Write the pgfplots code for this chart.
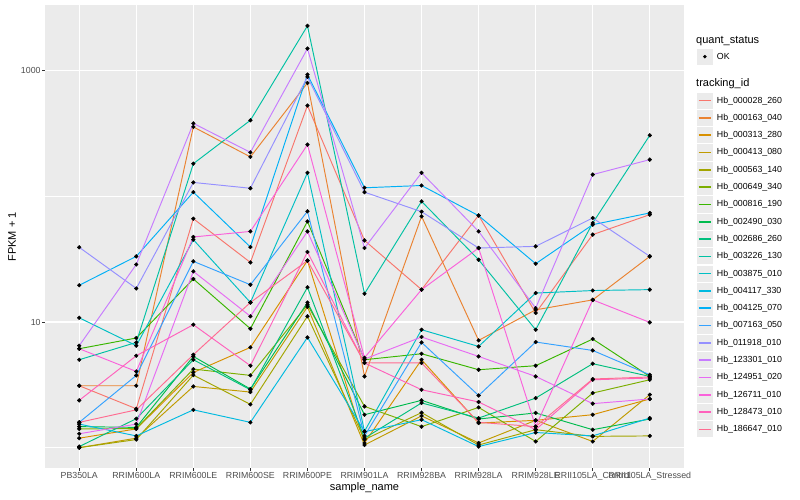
\documentclass[border=0pt]{standalone}
\usepackage{fontspec}
\setmainfont{Liberation Sans}
\usepackage{pgfplots}
\usepackage{pgfplotstable}
\pgfplotsset{compat=1.18}

\definecolor{panelgrey}{HTML}{EBEBEB}
\definecolor{txtgrey}{HTML}{4D4D4D}
\definecolor{tickgrey}{HTML}{333333}
\definecolor{c1}{HTML}{F8766D}
\definecolor{c2}{HTML}{EA8331}
\definecolor{c3}{HTML}{D89000}
\definecolor{c4}{HTML}{C09B00}
\definecolor{c5}{HTML}{A3A500}
\definecolor{c6}{HTML}{7CAE00}
\definecolor{c7}{HTML}{39B600}
\definecolor{c8}{HTML}{00BB4E}
\definecolor{c9}{HTML}{00BF7D}
\definecolor{c10}{HTML}{00C1A3}
\definecolor{c11}{HTML}{00BFC4}
\definecolor{c12}{HTML}{00BAE0}
\definecolor{c13}{HTML}{00B0F6}
\definecolor{c14}{HTML}{35A2FF}
\definecolor{c15}{HTML}{9590FF}
\definecolor{c16}{HTML}{C77CFF}
\definecolor{c17}{HTML}{E76BF3}
\definecolor{c18}{HTML}{FA62DB}
\definecolor{c19}{HTML}{FF62BC}
\definecolor{c20}{HTML}{FF6C91}

% FPKM + 1, one row per sample, one column per tracking_id
\pgfplotstableread{
x  s1   s2   s3   s4   s5   s6   s7   s8   s9   s10  s11  s12  s13  s14  s15  s16  s17  s18  s19  s20
0  3.11 3.11 1.19 1.00 1.00 1.41 6.13 1.47 1.02 5.01 10.8 1.54 19.6 1.59 39.3 6.48 1.29 6.13 2.38 1.59
1  2.04 3.11 1.41 1.19 1.16 1.42 7.46 1.45 1.70 6.88 6.48 1.24 33.3 3.76 18.5 28.7 1.54 4.04 5.39 2.00
2  66.4 357  3.97 3.07 3.78 4.22 22.0 5.32 5.01 182  45.2 2.00 108  30.4 129  381  25.3 47.5 9.52 5.49
3  29.8 206  6.28 2.77 2.21 3.76 8.84 2.93 2.89 403  14.3 1.59 39.5 19.8 116  224  11.1 52.6 4.49 14.3
4  528  799  30.8 13.2 11.1 13.7 63.2 14.3 18.9 2274 154  7.54 931  76.0 892  1500 52.6 258  36.1 30.8
5  44.6 3.69 1.09 1.05 1.16 2.13 5.01 1.83 1.19 16.8 1.35 1.34 117  1.24 108  38.8 5.07 5.20 4.72 4.74
6  18.1 69.3 5.01 1.79 1.90 1.47 5.59 2.38 2.27 91.2 8.68 1.67 122  6.88 75.5 154  7.60 18.1 2.89 4.72
7  70.6 7.14 1.57 1.09 1.05 2.09 4.17 1.69 1.72 31.3 6.39 1.02 70.2 2.60 38.8 52.6 5.32 38.8 2.31 1.59
8  11.8 12.5 1.65 1.65 1.39 1.12 4.49 1.89 2.48 8.68 17.0 1.32 29.1 6.93 40.0 12.9 3.69 1.47 1.39 1.47
9  49.6 15.0 1.83 1.12 1.23 2.72 7.32 1.39 4.66 61.4 17.8 1.24 59.5 5.94 67.3 149  2.24 15.0 3.47 3.52
10 71.5 33.3 2.44 2.64 1.24 3.47 3.69 1.69 3.69 306  18.1 1.72 73.8 3.80 33.3 196  2.44 9.93 3.58 3.65
}\fpkm

\begin{document}
\begin{tikzpicture}[x=1bp,y=1bp]
\path[use as bounding box] (0,0) rectangle (800,500);
\begin{axis}[
    at={(45bp,32bp)}, anchor=south west,
    width=639bp, height=463bp, scale only axis,
    ymode=log, ymin=0.689, ymax=3334,
    xmin=-0.6, xmax=10.6,
    xtick={0,...,10},
    xticklabels={PB350LA,RRIM600LA,RRIM600LE,RRIM600SE,RRIM600PE,RRIM901LA,RRIM928BA,RRIM928LA,RRIM928LE,RRII105LA\_Control,RRII105LA\_Stressed},
    ytick={10,1000}, yticklabels={10,1000},
    minor ytick={1,100},
    /pgf/number format/assume math mode=true,
    axis background/.style={fill=panelgrey},
    axis line style={draw=none},
    xmajorgrids, ymajorgrids, yminorgrids,
    major grid style={white, line width=1.07bp},
    minor grid style={white, line width=0.53bp},
    tick pos=left, tick align=outside,
    major tick length=2.75bp, minor tick length=0pt,
    tick style={tickgrey, line width=0.8bp},
    ticklabel style={font=\fontsize{8.8bp}{10bp}\selectfont, text=txtgrey},
    yticklabel style={inner sep=1.5bp},
    xticklabel style={inner sep=1.5bp},
    clip=false,
]
\pgfplotsinvokeforeach{1,...,20}{
  \addplot[c#1, line width=0.95bp, mark=none] table[x=x, y=s#1]{\fpkm};
}
\pgfplotsinvokeforeach{1,...,20}{
  \addplot[only marks, mark=*, mark size=1.9bp, black] table[x=x, y=s#1]{\fpkm};
}
\end{axis}

% axis titles
\node[font=\fontsize{11bp}{13bp}\selectfont] at (364.5,12) {sample\_name};
\node[font=\fontsize{11bp}{13bp}\selectfont, rotate=90] at (12,263) {FPKM + 1};

% legend
\node[anchor=west, inner sep=0, font=\fontsize{11bp}{13bp}\selectfont] at (696,459.3) {quant\_status};
\fill[panelgrey] (696.7,435.2) rectangle (713,451.4);
\fill[black] (704.85,443.3) circle (1.9);
\node[anchor=west, inner sep=0, font=\fontsize{8.8bp}{10bp}\selectfont] at (716.7,443.3) {OK};
\node[anchor=west, inner sep=0, font=\fontsize{11bp}{13bp}\selectfont] at (696,416.7) {tracking\_id};
\foreach \id [count=\i from 1] in {000028\_260,000163\_040,000313\_280,000413\_080,000563\_140,000649\_340,000816\_190,002490\_030,002686\_260,003226\_130,003875\_010,004117\_330,004125\_070,007163\_050,011918\_010,123301\_010,124951\_020,126711\_010,128473\_010,186647\_010}{
  \pgfmathsetmacro{\yc}{500-100.7-17.3*(\i-1)}
  \fill[panelgrey] (696.7,\yc-8.1) rectangle (713,\yc+8.1);
  \draw[c\i, line width=1.6bp] (698.5,\yc) -- (711.2,\yc);
  \node[anchor=west, inner sep=0, font=\fontsize{8.8bp}{10bp}\selectfont] at (716.7,\yc) {Hb\_\id};
}
\end{tikzpicture}
\end{document}
